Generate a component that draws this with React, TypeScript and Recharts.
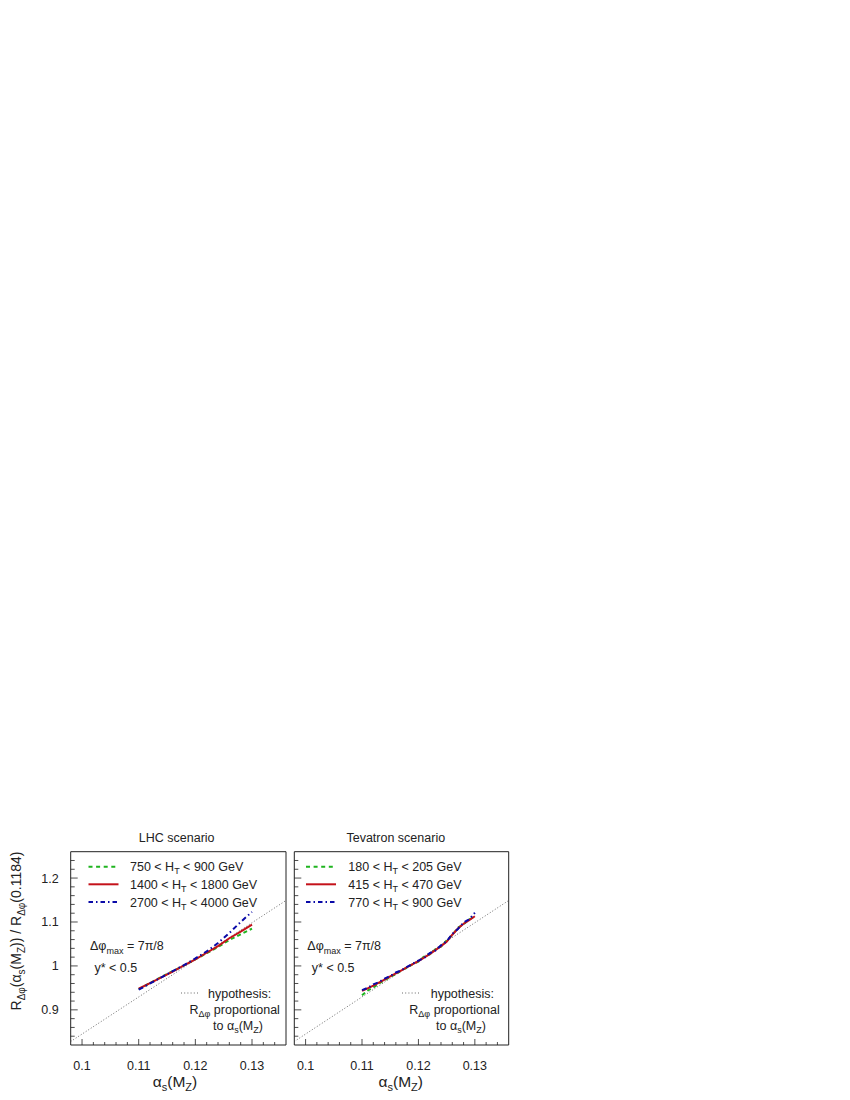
import React from "react";
import { LineChart, Line, XAxis, YAxis, ReferenceArea } from "recharts";

// alpha_s(M_Z) sample points
const lhcAlpha = [0.11, 0.112, 0.114, 0.116, 0.118, 0.12, 0.122, 0.124, 0.126, 0.128, 0.13];
const lhc750 = [0.947, 0.961, 0.975, 0.988, 1.001, 1.015, 1.029, 1.043, 1.059, 1.072, 1.085];
const lhc1400 = [0.948, 0.961, 0.974, 0.987, 1.001, 1.015, 1.03, 1.045, 1.063, 1.078, 1.094];
const lhc2700 = [0.946, 0.96, 0.974, 0.988, 1.002, 1.017, 1.033, 1.052, 1.075, 1.1, 1.123];

const tevAlpha = [
  0.11, 0.111, 0.112, 0.113, 0.114, 0.115, 0.116, 0.117, 0.118, 0.119, 0.12,
  0.121, 0.122, 0.123, 0.124, 0.125, 0.126, 0.127, 0.128, 0.129, 0.13,
];
const tev180 = [
  0.933, 0.944, 0.951, 0.96, 0.967, 0.975, 0.981, 0.99, 0.996, 1.004, 1.01,
  1.021, 1.026, 1.038, 1.044, 1.058, 1.07, 1.087, 1.095, 1.106, 1.112,
];
const tev415 = [
  0.943, 0.949, 0.955, 0.962, 0.969, 0.976, 0.983, 0.99, 0.997, 1.004, 1.011,
  1.019, 1.027, 1.036, 1.045, 1.055, 1.071, 1.085, 1.096, 1.104, 1.113,
];
const tev770 = [
  0.945, 0.95, 0.958, 0.963, 0.971, 0.977, 0.985, 0.99, 0.998, 1.005, 1.012,
  1.018, 1.029, 1.035, 1.047, 1.056, 1.073, 1.084, 1.099, 1.106, 1.121,
];

// dotted hypothesis line R ~ alpha_s, end points
const hypAlpha = [0.098, 0.136];
const hypRatio = [0.828, 1.149];

const xMajor = [0.1, 0.11, 0.12, 0.13];
const yMajor = [0.9, 1, 1.1, 1.2];
const xTicks = Array.from({ length: 18 }, (_, i) => +(0.1 + i * 0.002).toFixed(3));
const yTicks = Array.from({ length: 21 }, (_, i) => +(0.84 + i * 0.02).toFixed(2));

const lhcLabels = ["750", "900", "1400", "1800", "2700", "4000"];
const tevLabels = ["180", "205", "415", "470", "770", "900"];

const GREEN = "#1fb41f";
const RED = "#c4121a";
const BLUE = "#0a0aa8";
const INK = "#222";
const FONT = "'Liberation Sans', Arial, Helvetica, sans-serif";

const zip = (xs: number[], ys: number[]) => xs.map((x, i) => ({ x, y: ys[i] }));

const isMajor = (v: number, list: number[]) => list.some((m) => Math.abs(m - v) < 1e-6);

function XTick(props: any) {
  const { x, y, payload } = props;
  const major = isMajor(payload.value, xMajor);
  return (
    <g>
      <line x1={x} x2={x} y1={y} y2={y - (major ? 6 : 3)} stroke={INK} strokeWidth={0.8} />
      {major && (
        <text x={x} y={y + 24.5} textAnchor="middle" fontSize={12.5} fill={INK}>
          {payload.value}
        </text>
      )}
    </g>
  );
}

function makeYTick(showLabels: boolean) {
  return function YTick(props: any) {
    const { x, y, payload } = props;
    const major = isMajor(payload.value, yMajor);
    return (
      <g>
        <line x1={x} x2={x + (major ? 7 : 4)} y1={y} y2={y} stroke={INK} strokeWidth={0.8} />
        {major && showLabels && (
          <text x={x - 12} y={y + 4.5} textAnchor="end" fontSize={12.5} fill={INK}>
            {payload.value}
          </text>
        )}
      </g>
    );
  };
}

function Panel({ left, margin, series, showLabels }: any) {
  return (
    <div style={{ position: "absolute", left, top: 800 }}>
      <LineChart width={margin.w} height={300} margin={{ top: 51.7, bottom: 54, left: margin.l - 1, right: margin.r }}>
        <XAxis
          dataKey="x"
          type="number"
          domain={[0.098, 0.136]}
          ticks={xTicks}
          interval={0}
          height={1}
          tickSize={0}
          tickMargin={0}
          axisLine={false}
          tickLine={false}
          tick={<XTick />}
          allowDataOverflow
        />
        <YAxis
          type="number"
          domain={[0.82, 1.26]}
          ticks={yTicks}
          interval={0}
          width={1}
          tickSize={0}
          tickMargin={0}
          axisLine={false}
          tickLine={false}
          tick={makeYTick(showLabels)}
          allowDataOverflow
        />
        <ReferenceArea x1={0.098} x2={0.136} y1={0.82} y2={1.26} fill="none" stroke={INK} strokeWidth={1} />
        <Line
          data={zip(hypAlpha, hypRatio)}
          dataKey="y"
          stroke="#444"
          strokeWidth={0.8}
          strokeDasharray="1 2"
          dot={false}
          isAnimationActive={false}
        />
        <Line data={series[0]} dataKey="y" stroke={GREEN} strokeWidth={2} strokeDasharray="4 3" dot={false} isAnimationActive={false} />
        <Line data={series[1]} dataKey="y" stroke={RED} strokeWidth={2} dot={false} isAnimationActive={false} />
        <Line data={series[2]} dataKey="y" stroke={BLUE} strokeWidth={2} strokeDasharray="5 3 1.5 3" dot={false} isAnimationActive={false} />
      </LineChart>
    </div>
  );
}

function LegendBlock({ x0, textX, labels }: any) {
  const rows = [
    { y: 866.7, color: GREEN, dash: "4 3.6" },
    { y: 884.3, color: RED, dash: undefined },
    { y: 902, color: BLUE, dash: "4.5 3 1.5 3" },
  ];
  return (
    <g>
      {rows.map((r, i) => (
        <g key={i}>
          <line x1={x0} x2={x0 + 30} y1={r.y} y2={r.y} stroke={r.color} strokeWidth={2} strokeDasharray={r.dash} />
          <text x={textX} y={r.y + 4.5} fontSize={12.5} fill={INK}>
            {labels[2 * i]} &lt; H
            <tspan dy={3} fontSize={9}>T</tspan>
            <tspan dy={-3}> &lt; {labels[2 * i + 1]} GeV</tspan>
          </text>
        </g>
      ))}
    </g>
  );
}

function Notes({ dx, hyp }: any) {
  return (
    <g fontSize={12.5} fill={INK}>
      <text x={dx} y={950}>
        Δφ<tspan dy={3.5} fontSize={9}>max</tspan>
        <tspan dy={-3.5}> = 7π/8</tspan>
      </text>
      <text x={dx + 4.5} y={972}>y* &lt; 0.5</text>
      <line x1={hyp.d} x2={hyp.d + 19} y1={993} y2={993} stroke="#444" strokeWidth={0.8} strokeDasharray="1 2.2" />
      <text x={hyp.h} y={997.5}>hypothesis:</text>
      <text x={hyp.r} y={1013.5}>
        R<tspan dy={3.5} fontSize={9}>Δφ</tspan>
        <tspan dy={-3.5}> proportional</tspan>
      </text>
      <text x={hyp.t} y={1030}>
        to α<tspan dy={3} fontSize={9}>s</tspan>
        <tspan dy={-3}>(M</tspan>
        <tspan dy={3} fontSize={9}>Z</tspan>
        <tspan dy={-3}>)</tspan>
      </text>
    </g>
  );
}

function AxisTitle({ cx }: any) {
  return (
    <text x={cx} y={1087} textAnchor="middle" fontSize={15.5} fill={INK}>
      α<tspan dy={4} fontSize={11}>s</tspan>
      <tspan dy={-4}>(M</tspan>
      <tspan dy={4} fontSize={11}>Z</tspan>
      <tspan dy={-4}>)</tspan>
    </text>
  );
}

export default function App() {
  const lhcSeries = [zip(lhcAlpha, lhc750), zip(lhcAlpha, lhc1400), zip(lhcAlpha, lhc2700)];
  const tevSeries = [zip(tevAlpha, tev180), zip(tevAlpha, tev415), zip(tevAlpha, tev770)];

  return (
    <div style={{ position: "absolute", left: 0, top: 0, width: 850, height: 1100, fontFamily: FONT, background: "#fff" }}>
      <Panel left={0} margin={{ w: 300, l: 70.7, r: 14 }} series={lhcSeries} showLabels />
      <Panel left={290} margin={{ w: 230, l: 4.3, r: 11.3 }} series={tevSeries} showLabels={false} />

      <svg width={850} height={1100} style={{ position: "absolute", left: 0, top: 0, pointerEvents: "none" }} fontFamily={FONT}>
        <text x={176.7} y={842} textAnchor="middle" fontSize={12.5} fill={INK}>LHC scenario</text>
        <text x={395.8} y={842} textAnchor="middle" fontSize={12.5} fill={INK}>Tevatron scenario</text>

        <LegendBlock x0={88.5} textX={130} labels={lhcLabels} />
        <LegendBlock x0={306} textX={348.3} labels={tevLabels} />

        <Notes dx={90} hyp={{ d: 181, h: 208, r: 189.5, t: 213 }} />
        <Notes dx={307.3} hyp={{ d: 402, h: 430.7, r: 409.3, t: 436 }} />

        <AxisTitle cx={175} />
        <AxisTitle cx={400.8} />

        <text transform="translate(21,931) rotate(-90)" textAnchor="middle" fontSize={14} fill={INK}>
          R<tspan dy={3.5} fontSize={10}>Δφ</tspan>
          <tspan dy={-3.5}>(α</tspan>
          <tspan dy={3.5} fontSize={10}>s</tspan>
          <tspan dy={-3.5}>(M</tspan>
          <tspan dy={3.5} fontSize={10}>Z</tspan>
          <tspan dy={-3.5}>)) / R</tspan>
          <tspan dy={3.5} fontSize={10}>Δφ</tspan>
          <tspan dy={-3.5}>(0.1184)</tspan>
        </text>
      </svg>
    </div>
  );
}
